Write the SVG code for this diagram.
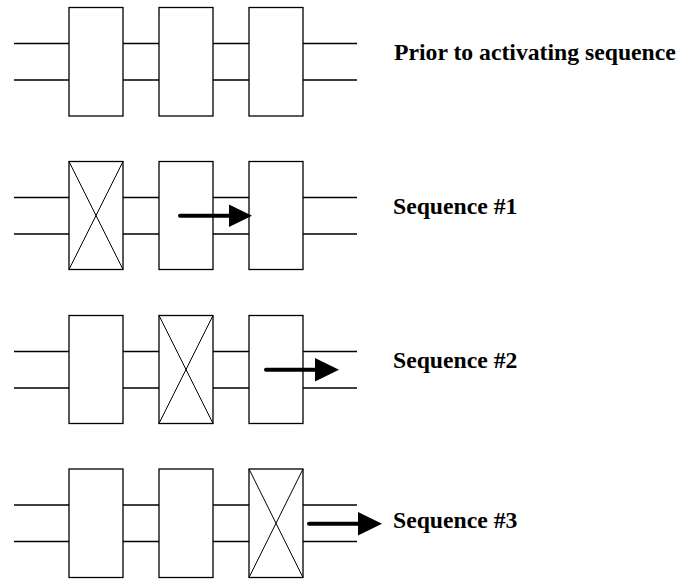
<svg xmlns="http://www.w3.org/2000/svg" width="684" height="580" viewBox="0 0 684 580">
<style>
.box{fill:#fff;stroke:#000;stroke-width:1.3}
.x{stroke:#000;stroke-width:1;fill:none}
.w{stroke:#000;stroke-width:1.3;fill:none}
.arr{stroke:#000;stroke-width:4;stroke-linecap:round;fill:none}
.head{fill:#000}
.lbl{font-family:"Liberation Serif","Times New Roman",serif;font-weight:bold;font-size:23.7px;fill:#000}
</style>
<rect width="684" height="580" fill="#fff"/>
<g id="connectors">
  <path class="w" d="M14 43.5H69M123 43.5H159M213 43.5H249M303 43.5H357M14 80H69M123 80H159M213 80H249M303 80H357"/>
  <path class="w" d="M14 197.5H69M123 197.5H159M213 197.5H249M303 197.5H357M14 234H69M123 234H159M213 234H249M303 234H357"/>
  <path class="w" d="M14 351.5H69M123 351.5H159M213 351.5H249M303 351.5H357M14 388H69M123 388H159M213 388H249M303 388H357"/>
  <path class="w" d="M14 505H69M123 505H159M213 505H249M303 505H357M14 541.5H69M123 541.5H159M213 541.5H249M303 541.5H357"/>
</g>
<g id="row1">
  <g id="r1b1"><rect class="box" x="69" y="7.5" width="54" height="108.5"/></g>
  <g id="r1b2"><rect class="box" x="159" y="7.5" width="54" height="108.5"/></g>
  <g id="r1b3"><rect class="box" x="249" y="7.5" width="54" height="108.5"/></g>
  <text class="lbl" x="394" y="59.5">Prior to activating sequence</text>
</g>
<g id="row2">
  <g id="r2b1"><rect class="box" x="69" y="161.5" width="54" height="108"/><path class="x" d="M69 161.5L123 269.5M123 161.5L69 269.5"/></g>
  <g id="r2b2"><rect class="box" x="159" y="161.5" width="54" height="108"/></g>
  <g id="r2b3"><rect class="box" x="249" y="161.5" width="54" height="108"/></g>
  <g id="r2arrow"><path class="arr" d="M180 215.7H232"/><path class="head" d="M229 204.5L252 215.7L229 227Z"/></g>
  <text class="lbl" x="393" y="214">Sequence #1</text>
</g>
<g id="row3">
  <g id="r3b1"><rect class="box" x="69" y="315.5" width="54" height="108"/></g>
  <g id="r3b2"><rect class="box" x="159" y="315.5" width="54" height="108"/><path class="x" d="M159 315.5L213 423.5M213 315.5L159 423.5"/></g>
  <g id="r3b3"><rect class="box" x="249" y="315.5" width="54" height="108"/></g>
  <g id="r3arrow"><path class="arr" d="M266 369.7H318"/><path class="head" d="M315 358L339 369.7L315 381.5Z"/></g>
  <text class="lbl" x="393" y="368">Sequence #2</text>
</g>
<g id="row4">
  <g id="r4b1"><rect class="box" x="69" y="469" width="54" height="108.5"/></g>
  <g id="r4b2"><rect class="box" x="159" y="469" width="54" height="108.5"/></g>
  <g id="r4b3"><rect class="box" x="249" y="469" width="54" height="108.5"/><path class="x" d="M249 469L303 577.5M303 469L249 577.5"/></g>
  <g id="r4arrow"><path class="arr" d="M309 523.7H361"/><path class="head" d="M358 512L382 523.7L358 535.5Z"/></g>
  <text class="lbl" x="393" y="527.5">Sequence #3</text>
</g>
</svg>
